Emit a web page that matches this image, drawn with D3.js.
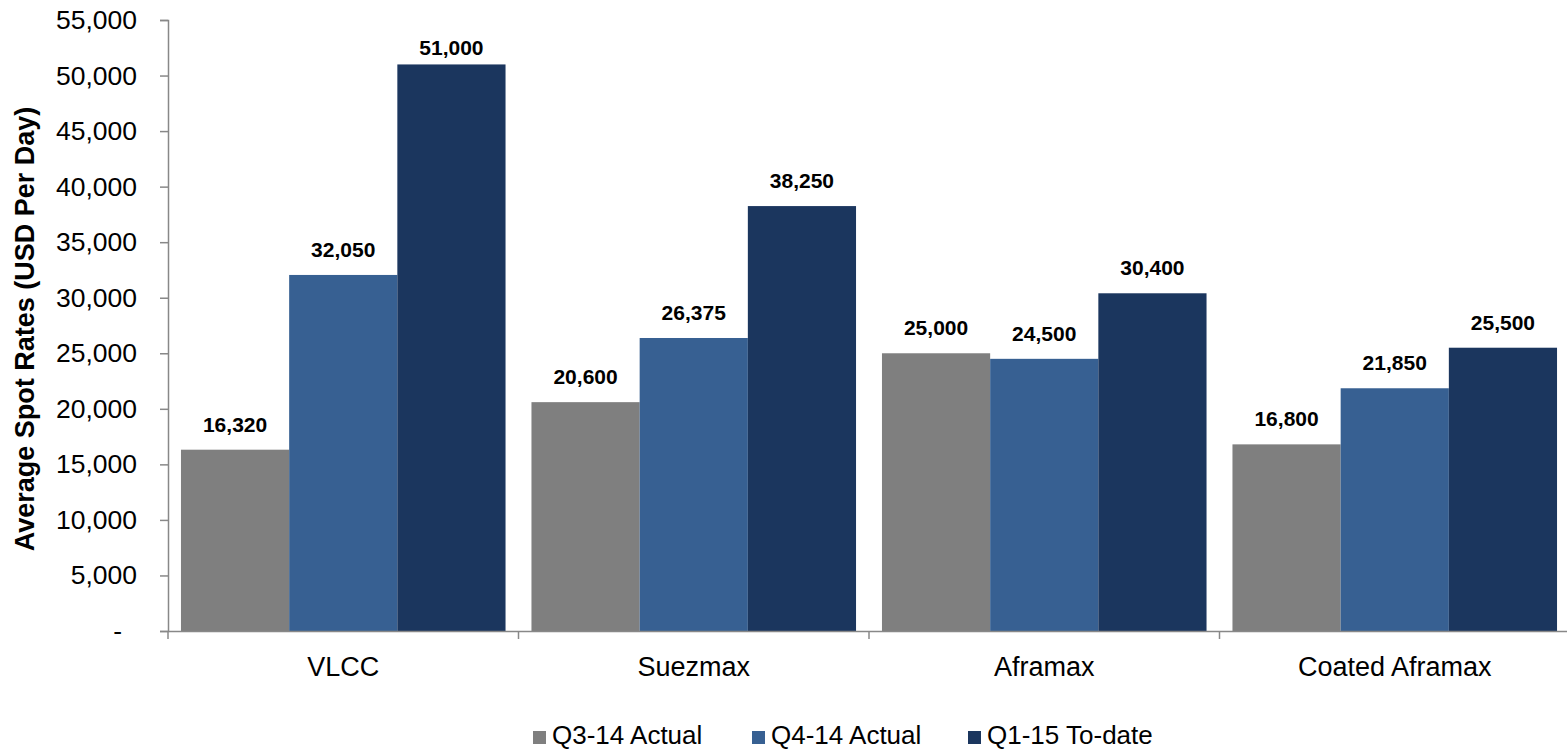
<!DOCTYPE html>
<html>
<head>
<meta charset="utf-8">
<script src="https://cdn.jsdelivr.net/npm/d3@7"></script>
<style>
  body { margin: 0; background: #fff; }
  text { font-family: Arial, "Liberation Sans", sans-serif; }
</style>
</head>
<body>
<div id="chart"></div>
<script>
// chart data
var categories = ["VLCC", "Suezmax", "Aframax", "Coated Aframax"];
var seriesNames = ["Q3-14 Actual", "Q4-14 Actual", "Q1-15 To-date"];
var q314 = [16320, 20600, 25000, 16800];
var q414 = [32050, 26375, 24500, 21850];
var q115 = [51000, 38250, 30400, 25500];
var yTicks = [0, 5000, 10000, 15000, 20000, 25000, 30000, 35000, 40000, 45000, 50000, 55000];
var colors = ["#7f7f7f", "#376092", "#1b365e"];

var data = categories.map(function(c, i) {
  return { cat: c, values: [q314[i], q414[i], q115[i]] };
});

var W = 1567, H = 749;
var margin = {top: 20, right: -3, bottom: 118, left: 168},
    width = W - margin.left - margin.right,
    height = H - margin.top - margin.bottom;

var svg = d3.select("#chart").append("svg")
    .attr("width", W)
    .attr("height", H)
  .append("g")
    .attr("transform", "translate(" + margin.left + "," + margin.top + ")");

// scales
var x0 = d3.scaleBand().domain(categories).range([0, width]).paddingInner(0.074).paddingOuter(0.037);
var x1 = d3.scaleBand().domain(d3.range(3)).range([0, x0.bandwidth()]);
var y = d3.scaleLinear().domain([0, 55000]).range([height, 0]);

var fmt = d3.format(",");

// bars
var groups = svg.selectAll("g.grp")
    .data(data)
    .enter().append("g")
    .attr("class", "grp")
    .attr("transform", function(d) { return "translate(" + x0(d.cat) + ",0)"; });

groups.selectAll("rect")
    .data(function(d) { return d.values; })
    .enter().append("rect")
    .attr("x", function(d, i) { return x1(i); })
    .attr("y", function(d) { return y(d); })
    .attr("width", x1.bandwidth())
    .attr("height", function(d) { return height - y(d); })
    .attr("fill", function(d, i) { return colors[i]; });

// value labels (kept from running into the top of the plot)
groups.selectAll("text.lbl")
    .data(function(d) { return d.values; })
    .enter().append("text")
    .attr("class", "lbl")
    .attr("x", function(d, i) { return x1(i) + x1.bandwidth() / 2; })
    .attr("y", function(d) { return Math.max(y(d) - 18, 35); })
    .attr("text-anchor", "middle")
    .style("font-size", "21px")
    .style("font-weight", "bold")
    .text(function(d) { return fmt(d); });

// y axis
var yAxis = svg.append("g")
    .call(d3.axisLeft(y).tickValues(yTicks).tickSize(8).tickPadding(23)
      .tickFormat(function(d) { return d === 0 ? "-" : fmt(d); }));
yAxis.select(".domain").attr("stroke", "#888").attr("stroke-width", 1.5);
yAxis.selectAll(".tick line").attr("stroke", "#888").attr("stroke-width", 1.5);
yAxis.selectAll(".tick text")
    .style("font-size", "26.5px")
    .attr("fill", "#000");
yAxis.selectAll(".tick text").filter(function(d) { return d === 0; }).attr("dx", -15);

// x axis
var xAxis = svg.append("g")
    .attr("transform", "translate(0," + height + ")")
    .call(d3.axisBottom(x0).tickSize(0).tickPadding(26).tickSizeOuter(0));
xAxis.select(".domain").attr("stroke", "#888").attr("stroke-width", 1.5);
xAxis.selectAll(".tick text")
    .style("font-size", "27px")
    .attr("fill", "#000");

// category boundary ticks
var bounds = categories.map(function(c) { return x0(c) - x0.step() * 0.037; });
svg.selectAll("line.bnd")
    .data(bounds)
    .enter().append("line")
    .attr("class", "bnd")
    .attr("x1", function(d) { return d; })
    .attr("x2", function(d) { return d; })
    .attr("y1", height)
    .attr("y2", height + 8)
    .attr("stroke", "#888")
    .attr("stroke-width", 1.5);

// y axis title
svg.append("text")
    .attr("transform", "rotate(-90)")
    .attr("x", -309)
    .attr("y", -134)
    .attr("text-anchor", "middle")
    .style("font-size", "27px")
    .style("font-weight", "bold")
    .text("Average Spot Rates (USD Per Day)");

// legend
var legendX = [533, 752, 968];
var legend = svg.selectAll("g.leg")
    .data(seriesNames)
    .enter().append("g")
    .attr("class", "leg")
    .attr("transform", function(d, i) { return "translate(" + (legendX[i] - margin.left) + "," + (736 - margin.top) + ")"; });
legend.append("rect")
    .attr("width", 13)
    .attr("height", 13)
    .attr("y", -5)
    .attr("fill", function(d, i) { return colors[i]; });
legend.append("text")
    .attr("x", 19)
    .attr("y", 8)
    .style("font-size", "26px")
    .text(function(d) { return d; });
</script>
</body>
</html>
